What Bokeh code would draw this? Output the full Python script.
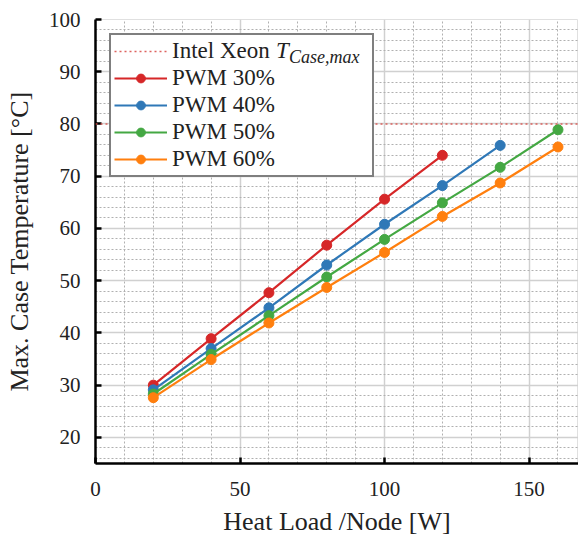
from bokeh.plotting import figure
from bokeh.models import (Range1d, SingleIntervalTicker, Span, Legend, LegendItem)
from bokeh.embed import file_html
from bokeh.resources import INLINE

# ---- data ----
heat_load = [20, 40, 60, 80, 100, 120, 140, 160]
pwm30 = [30.0, 38.9, 47.7, 56.8, 65.6, 74.0]
pwm40 = [29.1, 37.0, 44.8, 53.0, 60.8, 68.2, 75.9]
pwm50 = [28.3, 35.9, 43.3, 50.7, 57.9, 64.9, 71.7, 78.9]
pwm60 = [27.6, 34.9, 41.9, 48.7, 55.4, 62.3, 68.7, 75.6]
series_names = ["PWM 30%", "PWM 40%", "PWM 50%", "PWM 60%"]
series_values = [pwm30, pwm40, pwm50, pwm60]
colors = ["#d62728", "#2f78b7", "#44a843", "#ff7f0e"]
t_case_max = 80

SERIF = "Liberation Serif"
TXT = "#222222"

p = figure(frame_width=483, frame_height=444, output_backend="svg", toolbar_location=None,
           x_range=Range1d(0, 167.1), y_range=Range1d(15, 100),
           min_border_left=95, min_border_top=19, min_border_right=0, min_border_bottom=60)
p.outline_line_color = "#e0e0e0"
p.background_fill_color = "white"
p.border_fill_color = "white"

p.xaxis.ticker = SingleIntervalTicker(interval=50, num_minor_ticks=5)
p.yaxis.ticker = SingleIntervalTicker(interval=10, num_minor_ticks=5)
for ax in (p.xaxis[0], p.yaxis[0]):
    ax.axis_line_color = "black"
    ax.axis_line_width = 2.5
    ax.major_tick_in = 6
    ax.major_tick_out = 0
    ax.major_tick_line_width = 2.5
    ax.major_tick_line_color = "black"
    ax.minor_tick_line_color = None
    ax.major_label_text_font = SERIF
    ax.major_label_text_font_size = "21px"
    ax.major_label_text_color = TXT
    ax.axis_label_text_font = SERIF
    ax.axis_label_text_font_size = "26px"
    ax.axis_label_text_font_style = "normal"
    ax.axis_label_text_color = TXT
p.xaxis.axis_label = "Heat Load /Node [W]"
p.yaxis.axis_label = "Max. Case Temperature [°C]"
p.xaxis.major_label_standoff = 14
p.yaxis.major_label_standoff = 11
p.xaxis.axis_label_standoff = 8
p.yaxis.axis_label_standoff = 12

for g in (p.xgrid[0], p.ygrid[0]):
    g.grid_line_color = "#d0d0d0"
    g.grid_line_width = 1.5
    g.minor_grid_line_color = "#b0b0b0"
    g.minor_grid_line_dash = "2 2"
    g.minor_grid_line_width = 1

# threshold
p.add_layout(Span(location=t_case_max, dimension="width", line_color="#d9534f",
                  line_dash="2 3", line_width=1.5, line_alpha=0.9))
thr = p.line([float("nan")], [float("nan")], line_color="#d9534f", line_dash="2 3",
             line_width=1.5, line_alpha=0.9)
ghost = p.line([float("nan")], [float("nan")], line_alpha=0)

items = [LegendItem(label="Intel Xeon", renderers=[thr])]
for name, vals, c in zip(series_names, series_values, colors):
    xs = heat_load[:len(vals)]
    r1 = p.line(xs, vals, line_color=c, line_width=2.2)
    r2 = p.scatter(xs, vals, size=10, fill_color=c, line_color=c)
    items.append(LegendItem(label=name, renderers=[r1, r2]))

legend = Legend(items=items, location="top_left", margin=14,
                label_text_font=SERIF, label_text_font_size="23px",
                label_text_color=TXT,
                glyph_width=53, glyph_height=22, label_height=22, spacing=1,
                padding=3, label_standoff=5, label_width=197,
                border_line_color="black", border_line_width=2.5,
                background_fill_color="white", background_fill_alpha=1.0)
p.add_layout(legend, "center")

# italic T with subscript "Case,max" following "Intel Xeon" in the legend's first row
def text_only_legend(text, size, loc, h):
    return Legend(items=[LegendItem(label=text, renderers=[ghost])], location=loc,
                  margin=0, padding=0, spacing=0, glyph_width=0, glyph_height=h,
                  label_height=h, label_standoff=0, label_width=10,
                  label_text_font=SERIF, label_text_font_style="italic",
                  label_text_font_size=size, label_text_color=TXT,
                  border_line_color=None, background_fill_alpha=0)

p.add_layout(text_only_legend("T", "23px", (181, 399), 22), "center")
p.add_layout(text_only_legend("Case,max", "18px", (194, 395), 10), "center")

open("out.html", "w").write(file_html(p, INLINE))
